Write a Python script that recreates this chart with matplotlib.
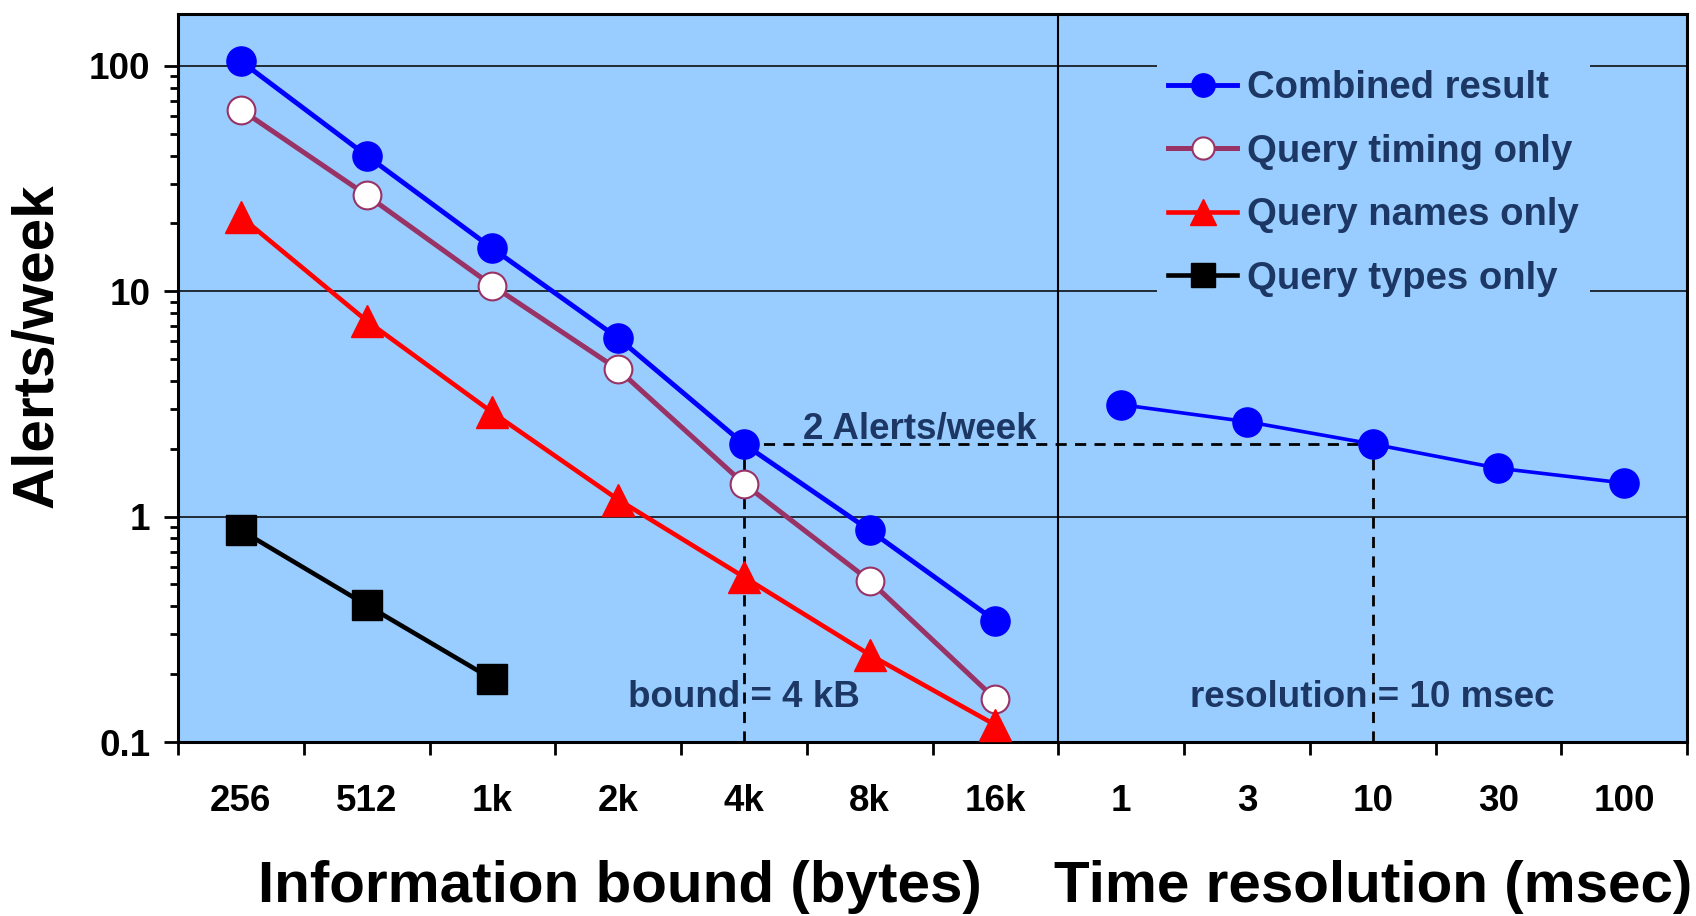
import numpy as np
import matplotlib
matplotlib.use("Agg")
import matplotlib.pyplot as plt
from matplotlib.ticker import FixedLocator, NullFormatter, LogLocator

plt.rcParams['font.family'] = ['Liberation Sans', 'DejaVu Sans']
plt.rcParams['font.weight'] = 'bold'

# data
bound_labels = ['256', '512', '1k', '2k', '4k', '8k', '16k']
res_labels = ['1', '3', '10', '30', '100']
combined = [105, 40, 15.5, 6.2, 2.1, 0.87, 0.345]
timing = [64, 26.7, 10.6, 4.5, 1.4, 0.52, 0.155]
names = [21.4, 7.4, 2.9, 1.19, 0.54, 0.244, 0.119]
types = [0.87, 0.405, 0.19]
combined_res = [3.14, 2.64, 2.1, 1.64, 1.41]
alert_level = 2.1

navy = '#1c3763'
bg = '#99ccff'

fig = plt.figure(figsize=(16.96, 9.16), dpi=100)
ax = fig.add_axes([178 / 1696, 174 / 916, 1509 / 1696, 728 / 916])
ax.set_facecolor(bg)

xb = np.arange(len(bound_labels))
xr = np.arange(len(res_labels)) + len(bound_labels)

# grid + separator
for v in [1, 10, 100]:
    ax.axhline(v, color='black', lw=1.1, zorder=1)
ax.axvline(len(bound_labels) - 0.5, color='black', lw=1.5, zorder=1)

# dashed guides
dash = (0, (4, 3))
ax.plot([4, 9], [alert_level, alert_level], color='black', lw=2, ls=dash, zorder=2)
ax.plot([4, 4], [0.1, alert_level], color='black', lw=2, ls=dash, zorder=2)
ax.plot([9, 9], [0.1, alert_level], color='black', lw=2, ls=dash, zorder=2)

ax.plot(xb, combined, color='#0000ff', lw=3.5, marker='o', ms=21, mec='#0000ff',
        label='Combined result', zorder=5, clip_on=False)
ax.plot(xr, combined_res, color='#0000ff', lw=2.6, marker='o', ms=21, mec='#0000ff',
        zorder=5, clip_on=False)
ax.plot(xb, timing, color='#993366', lw=3.6, marker='o', ms=20, mfc='white',
        mec='#993366', mew=1.5, label='Query timing only', zorder=4, clip_on=False)
ax.plot(xb, names, color='#ff0000', lw=3.3, marker='^', ms=23, mec='#ff0000',
        label='Query names only', zorder=4, clip_on=False)
ax.plot(np.arange(len(types)), types, color='black', lw=3.3, marker='s', ms=22,
        label='Query types only', zorder=4, clip_on=False)

ax.set_yscale('log')
ax.set_ylim(0.1, 170)
ax.set_xlim(-0.5, len(bound_labels) + len(res_labels) - 0.5)

ax.set_yticks([0.1, 1, 10, 100])
ax.set_yticklabels(['0.1', '1', '10', '100'])
ax.yaxis.set_minor_locator(LogLocator(base=10, subs=np.arange(2, 10)))
ax.yaxis.set_minor_formatter(NullFormatter())
ax.tick_params(axis='y', which='major', direction='out', length=10, width=2,
               labelsize=26.5, pad=10)
ax.tick_params(axis='y', which='minor', direction='out', length=6, width=2)

nx = len(bound_labels) + len(res_labels)
ax.xaxis.set_major_locator(FixedLocator(np.arange(nx + 1) - 0.5))
ax.xaxis.set_major_formatter(NullFormatter())
ax.xaxis.set_minor_locator(FixedLocator(np.arange(nx)))
ax.set_xticklabels(bound_labels + res_labels, minor=True)
ax.tick_params(axis='x', which='major', direction='out', length=9, width=2)
ax.tick_params(axis='x', which='minor', length=0, labelsize=26.5, pad=30)

for s in ax.spines.values():
    s.set_linewidth(2.2)

ax.text(5.4, 2.45, '2 Alerts/week', color=navy, fontsize=26.5, ha='center', va='center')
ax.text(4, 0.158, 'bound = 4 kB', color=navy, fontsize=26.5, ha='center', va='center')
ax.text(9, 0.158, 'resolution = 10 msec', color=navy, fontsize=26.5, ha='center', va='center')

leg = ax.legend(loc='upper left', bbox_to_anchor=(0.636, 0.965), fontsize=27.5,
                frameon=True, facecolor=bg, edgecolor='none', framealpha=1,
                fancybox=False, handlelength=1.8, handletextpad=0.25,
                labelspacing=0.72, borderpad=0.3, markerscale=0.8, labelcolor=navy)
leg.set_zorder(6)

fig.text(38 / 1696, 1 - 346 / 916, 'Alerts/week', rotation=90, fontsize=42,
         ha='center', va='center')
fig.text(620 / 1696, 1 - 887 / 916, 'Information bound (bytes)', fontsize=42,
         ha='center', va='center')
fig.text(1373 / 1696, 1 - 887 / 916, 'Time resolution (msec)', fontsize=42,
         ha='center', va='center')

fig.savefig('out.png', dpi=100)
